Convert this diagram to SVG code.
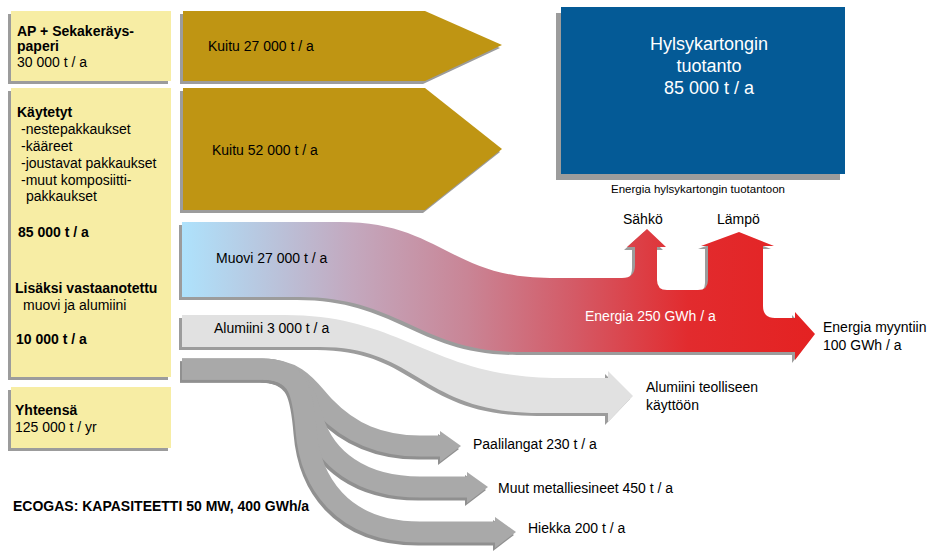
<svg xmlns="http://www.w3.org/2000/svg" width="930" height="552" viewBox="0 0 930 552">
  <defs>
    <linearGradient id="energyGrad" gradientUnits="userSpaceOnUse" x1="182" y1="0" x2="815" y2="0">
      <stop offset="0" stop-color="#AEE2FC"/>
      <stop offset="0.27" stop-color="#C3A8BE"/>
      <stop offset="0.45" stop-color="#C98596"/>
      <stop offset="0.62" stop-color="#D45A66"/>
      <stop offset="0.8" stop-color="#E22B2E"/>
      <stop offset="1" stop-color="#E42222"/>
    </linearGradient>
  </defs>
  <style>
    text { font-family: "Liberation Sans", Arial, sans-serif; font-size: 14px; fill: #000; }
    .b { font-weight: bold; }
    .w { fill: #fff; }
    .src { fill: #F7EDA4; }
    .shadow { fill: #9C9C9C; }
    .gold { fill: #BF9513; }
    .plant { fill: #045A96; }
    .alu { fill: #E1E1E1; }
    .grey { fill: none; stroke: #A9A9A9; stroke-width: 21; }
    .greyShadow { fill: none; stroke: #909090; stroke-width: 21; }
    .greyHead { fill: #A9A9A9; }
    .greyHeadShadow { fill: #909090; }
  </style>

  <!-- source boxes -->
  <g id="source-paper">
    <rect class="shadow" x="8" y="14" width="160" height="70"/>
    <rect class="src" x="11" y="11" width="160" height="70"/>
    <text class="b" x="17" y="36">AP + Sekakeräys-</text>
    <text class="b" x="17" y="51">paperi</text>
    <text x="17" y="67">30 000 t / a</text>
  </g>

  <g id="source-packaging">
    <rect class="shadow" x="8" y="91" width="160" height="289"/>
    <rect class="src" x="11" y="88" width="160" height="289"/>
    <text class="b" x="17" y="117">Käytetyt</text>
    <text x="21" y="134">-nestepakkaukset</text>
    <text x="21" y="151">-kääreet</text>
    <text x="21" y="168">-joustavat pakkaukset</text>
    <text x="21" y="185">-muut komposiitti-</text>
    <text x="26" y="201">pakkaukset</text>
    <text class="b" x="18" y="237">85 000 t / a</text>
    <text class="b" x="15" y="293">Lisäksi vastaanotettu</text>
    <text x="23" y="310">muovi ja alumiini</text>
    <text class="b" x="16" y="344">10 000 t / a</text>
  </g>

  <g id="source-total">
    <rect class="shadow" x="8" y="390" width="160" height="61"/>
    <rect class="src" x="11" y="387" width="160" height="61"/>
    <text class="b" x="15" y="415">Yhteensä</text>
    <text x="15" y="432">125 000 t / yr</text>
  </g>

  <!-- production plant -->
  <g id="plant">
    <rect class="shadow" x="556" y="13" width="284" height="167"/>
    <rect class="plant" x="561" y="7" width="284" height="167"/>
    <text class="w" x="709" y="50" text-anchor="middle" style="font-size:18px">Hylsykartongin</text>
    <text class="w" x="709" y="72" text-anchor="middle" style="font-size:18px">tuotanto</text>
    <text class="w" x="709" y="94" text-anchor="middle" style="font-size:18px">85 000 t / a</text>
    <text x="698" y="193" text-anchor="middle" style="font-size:11.5px">Energia hylsykartongin tuotantoon</text>
  </g>

  <g id="connectors">
    <!-- fibre flows -->
    <g id="fibre-1">
      <polygon class="shadow" points="180,14 423,14 500,48 423,84 180,84"/>
      <polygon class="gold" points="183,11 425,11 502,45 425,81 183,81"/>
      <text x="208" y="51">Kuitu 27 000 t / a</text>
    </g>
    <g id="fibre-2">
      <polygon class="shadow" points="180,91 423,91 500,152 423,213 180,213"/>
      <polygon class="gold" points="183,88 425,88 502,149 425,210 183,210"/>
      <text x="212" y="155">Kuitu 52 000 t / a</text>
    </g>

    <!-- plastics to energy -->
    <g id="energy">
      <path class="shadow" transform="translate(-3,3)" d="M182,222 H340 C440,222 450,278 550,278 H622 Q635,278 635,265 V247 H627 L647,229 L666,247 H657 V280 Q657,290 667,290 H698 Q708,290 708,280 V246 H701 L739,232 L774,246 H763 V306 Q763,318 775,318 H795 V312 L815,334 L795,360 V352 H520 C420,352 400,297 300,297 H182 Z"/>
      <path fill="url(#energyGrad)" d="M182,222 H340 C440,222 450,278 550,278 H622 Q635,278 635,265 V247 H627 L647,229 L666,247 H657 V280 Q657,290 667,290 H698 Q708,290 708,280 V246 H701 L739,232 L774,246 H763 V306 Q763,318 775,318 H795 V312 L815,334 L795,360 V352 H520 C420,352 400,297 300,297 H182 Z"/>
      <text x="216" y="263">Muovi 27 000 t / a</text>
      <text class="w" x="585" y="321">Energia 250 GWh / a</text>
      <text x="623" y="224">Sähkö</text>
      <text x="717" y="224">Lämpö</text>
      <text x="823" y="332">Energia myyntiin</text>
      <text x="823" y="350">100 GWh / a</text>
    </g>

    <!-- aluminium flow -->
    <g id="aluminium">
      <path class="shadow" transform="translate(-3,3)" d="M182,315 H285 C405,315 430,378 560,378 H608 V371 L633,396 L608,422 V413 H540 C420,413 420,347 320,347 H182 Z"/>
      <path class="alu" d="M182,315 H285 C405,315 430,378 560,378 H608 V371 L633,396 L608,422 V413 H540 C420,413 420,347 320,347 H182 Z"/>
      <text x="214" y="333">Alumiini 3 000 t / a</text>
      <text x="646" y="392">Alumiini teolliseen</text>
      <text x="646" y="410">käyttöön</text>
    </g>

    <!-- rejects -->
    <g id="rejects">
      <g transform="translate(-2,3)">
        <path class="greyShadow" d="M182,369 H262 C300,369 310,392 325,407 C350,433 380,446 420,446 H441"/>
        <path class="greyShadow" d="M182,369 H262 C300,369 305,395 313,420 C325,458 360,487 420,487 H468"/>
        <path class="greyShadow" d="M182,369 H262 C300,369 303,395 306,430 C310,480 340,532 420,532 H496"/>
        <polygon class="greyHeadShadow" points="440,431 461,446 440,462"/>
        <polygon class="greyHeadShadow" points="467,472 488,487 467,503"/>
        <polygon class="greyHeadShadow" points="495,517 516,532 495,548"/>
      </g>
      <path class="grey" d="M182,369 H262 C300,369 310,392 325,407 C350,433 380,446 420,446 H441"/>
      <path class="grey" d="M182,369 H262 C300,369 305,395 313,420 C325,458 360,487 420,487 H468"/>
      <path class="grey" d="M182,369 H262 C300,369 303,395 306,430 C310,480 340,532 420,532 H496"/>
      <polygon class="greyHead" points="440,431 461,446 440,462"/>
      <polygon class="greyHead" points="467,472 488,487 467,503"/>
      <polygon class="greyHead" points="495,517 516,532 495,548"/>
      <text x="473" y="449">Paalilangat 230 t / a</text>
      <text x="498" y="493">Muut metalliesineet 450 t / a</text>
      <text x="528" y="533">Hiekka 200 t / a</text>
    </g>
  </g>

  <text class="b" x="13" y="511">ECOGAS: KAPASITEETTI 50 MW, 400 GWh/a</text>
</svg>
